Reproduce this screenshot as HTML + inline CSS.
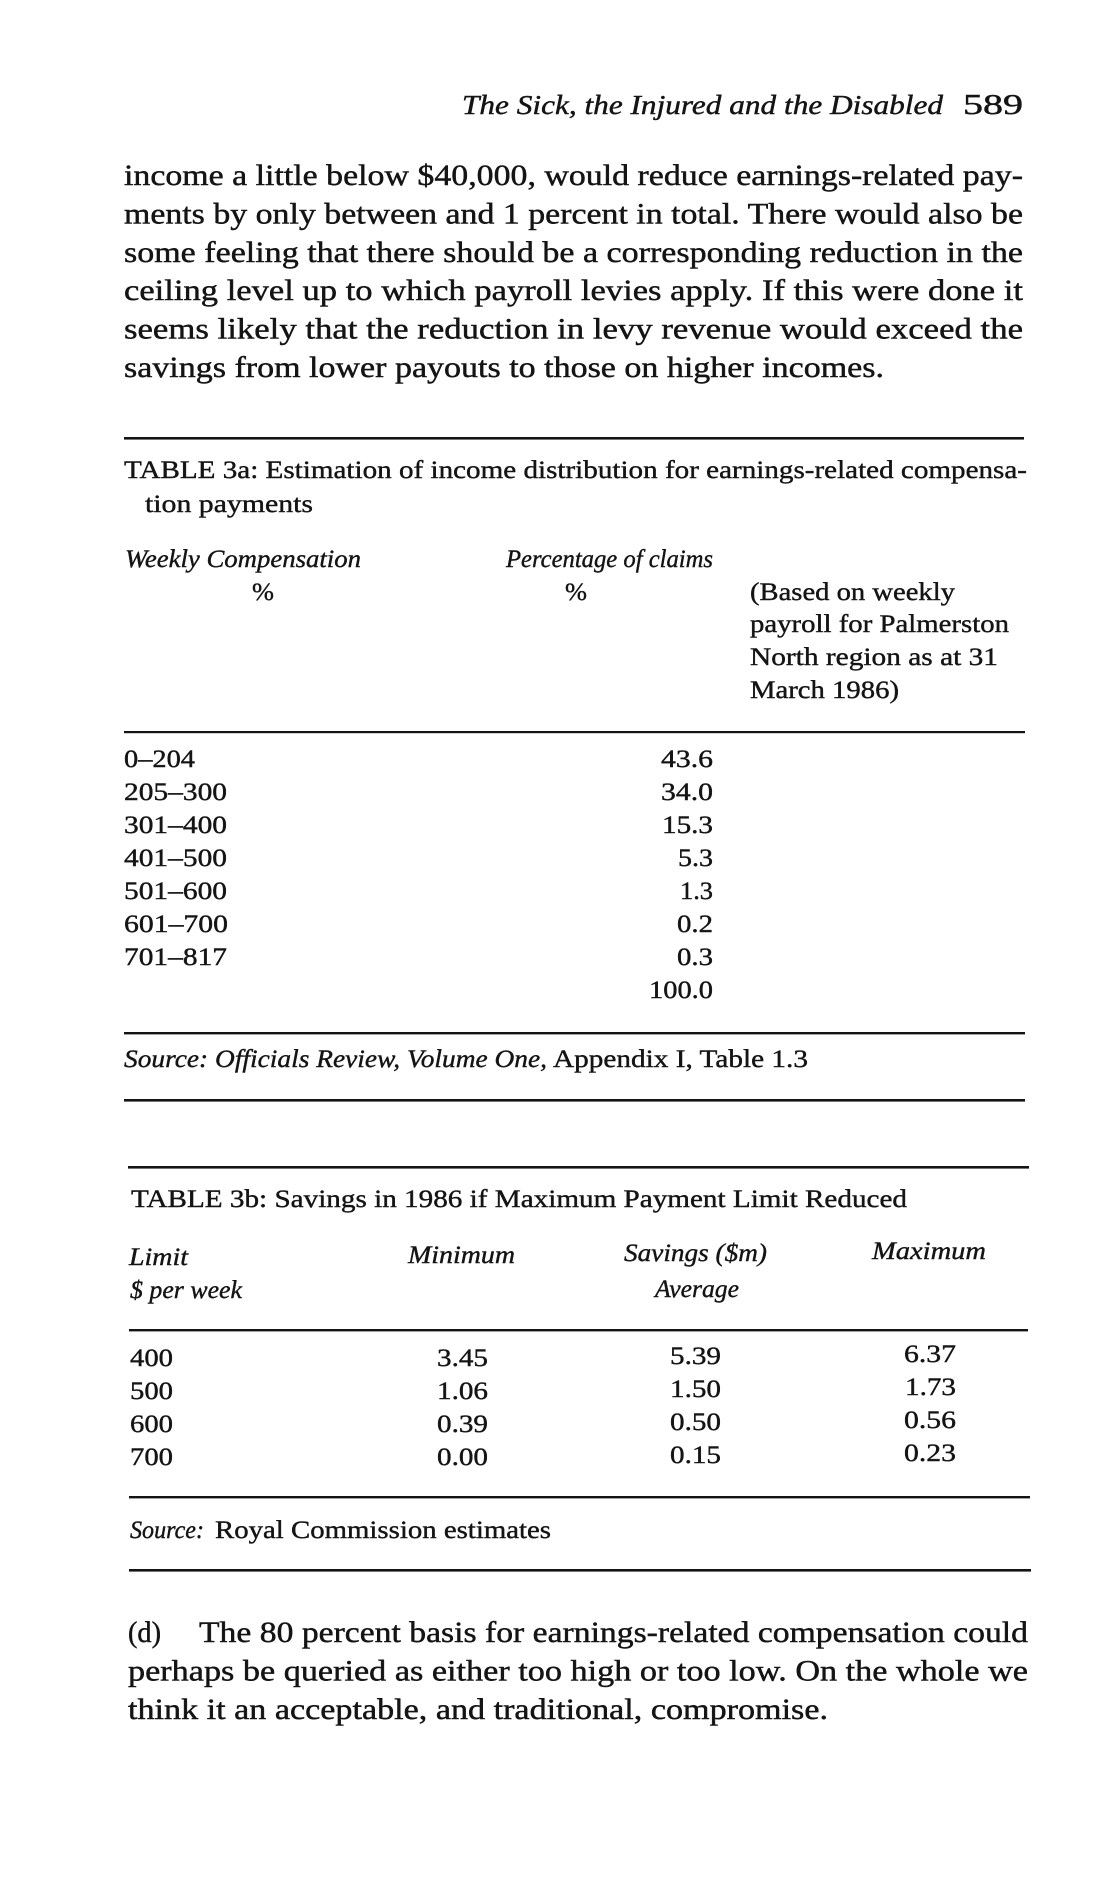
<!DOCTYPE html>
<html>
<head>
<meta charset="utf-8">
<style>
  html, body { margin: 0; padding: 0; background: #ffffff; }
  body { width: 1114px; height: 1882px; overflow: hidden; }
  svg { display: block; }
  text { font-family: "Liberation Serif", serif; fill: #141414; stroke: #141414; stroke-width: 0.45px; }
  .it { font-style: italic; }
  .b { font-size: 30px; }
  .t { font-size: 25px; stroke-width: 0.4px; }
</style>
</head>
<body>
<svg width="1114" height="1882" viewBox="0 0 1114 1882" xmlns="http://www.w3.org/2000/svg">
  <rect x="0" y="0" width="1114" height="1882" fill="#ffffff"/>

  <!-- Running head -->
  <text class="it" x="462" y="114" font-size="27" textLength="481" lengthAdjust="spacingAndGlyphs">The Sick, the Injured and the Disabled</text>
  <text x="963" y="114" font-size="28" textLength="60" lengthAdjust="spacingAndGlyphs">589</text>

  <!-- Body paragraph -->
  <text class="b" x="124" y="185" textLength="899" lengthAdjust="spacingAndGlyphs">income a little below $40,000, would reduce earnings-related pay-</text>
  <text class="b" x="124" y="223.4" textLength="899" lengthAdjust="spacingAndGlyphs">ments by only between and 1 percent in total. There would also be</text>
  <text class="b" x="124" y="261.8" textLength="899" lengthAdjust="spacingAndGlyphs">some feeling that there should be a corresponding reduction in the</text>
  <text class="b" x="124" y="300.2" textLength="899" lengthAdjust="spacingAndGlyphs">ceiling level up to which payroll levies apply. If this were done it</text>
  <text class="b" x="124" y="338.6" textLength="899" lengthAdjust="spacingAndGlyphs">seems likely that the reduction in levy revenue would exceed the</text>
  <text class="b" x="124" y="377" textLength="760" lengthAdjust="spacingAndGlyphs">savings from lower payouts to those on higher incomes.</text>

  <!-- TABLE 3a -->
  <rect x="124" y="437" width="900" height="2.6" fill="#141414"/>
  <text class="t" x="124" y="478" textLength="903" lengthAdjust="spacingAndGlyphs">TABLE 3a: Estimation of income distribution for earnings-related compensa-</text>
  <text class="t" x="145" y="512" textLength="168" lengthAdjust="spacingAndGlyphs">tion payments</text>

  <text class="t it" x="125" y="567" textLength="236" lengthAdjust="spacingAndGlyphs">Weekly Compensation</text>
  <text class="t" x="252" y="600" textLength="22" lengthAdjust="spacingAndGlyphs">%</text>
  <text class="t it" x="506" y="567" textLength="207" lengthAdjust="spacingAndGlyphs">Percentage of claims</text>
  <text class="t" x="565" y="600" textLength="22" lengthAdjust="spacingAndGlyphs">%</text>

  <text class="t" x="750" y="600" textLength="205" lengthAdjust="spacingAndGlyphs">(Based on weekly</text>
  <text class="t" x="750" y="632" textLength="259" lengthAdjust="spacingAndGlyphs">payroll for Palmerston</text>
  <text class="t" x="750" y="665" textLength="248" lengthAdjust="spacingAndGlyphs">North region as at 31</text>
  <text class="t" x="750" y="698" textLength="149" lengthAdjust="spacingAndGlyphs">March 1986)</text>

  <rect x="124" y="731" width="901" height="2.2" fill="#141414"/>

  <text class="t" x="124" y="767" textLength="71" lengthAdjust="spacingAndGlyphs">0–204</text>
  <text class="t" x="124" y="800" textLength="103" lengthAdjust="spacingAndGlyphs">205–300</text>
  <text class="t" x="124" y="833" textLength="103" lengthAdjust="spacingAndGlyphs">301–400</text>
  <text class="t" x="124" y="866" textLength="103" lengthAdjust="spacingAndGlyphs">401–500</text>
  <text class="t" x="124" y="899" textLength="103" lengthAdjust="spacingAndGlyphs">501–600</text>
  <text class="t" x="124" y="932" textLength="104" lengthAdjust="spacingAndGlyphs">601–700</text>
  <text class="t" x="124" y="965" textLength="103" lengthAdjust="spacingAndGlyphs">701–817</text>

  <text class="t" x="661" y="767" textLength="52" lengthAdjust="spacingAndGlyphs">43.6</text>
  <text class="t" x="661" y="800" textLength="52" lengthAdjust="spacingAndGlyphs">34.0</text>
  <text class="t" x="662" y="833" textLength="51" lengthAdjust="spacingAndGlyphs">15.3</text>
  <text class="t" x="678" y="866" textLength="35" lengthAdjust="spacingAndGlyphs">5.3</text>
  <text class="t" x="680" y="899" textLength="33" lengthAdjust="spacingAndGlyphs">1.3</text>
  <text class="t" x="677" y="932" textLength="36" lengthAdjust="spacingAndGlyphs">0.2</text>
  <text class="t" x="677" y="965" textLength="36" lengthAdjust="spacingAndGlyphs">0.3</text>
  <text class="t" x="649" y="998" textLength="64" lengthAdjust="spacingAndGlyphs">100.0</text>

  <rect x="124" y="1032" width="901" height="2.4" fill="#141414"/>
  <text class="t it" x="124" y="1067" textLength="423" lengthAdjust="spacingAndGlyphs">Source: Officials Review, Volume One,</text>
  <text class="t" x="553" y="1067" textLength="255" lengthAdjust="spacingAndGlyphs">Appendix I, Table 1.3</text>
  <rect x="124" y="1099" width="901" height="2.6" fill="#141414"/>

  <!-- TABLE 3b -->
  <rect x="128" y="1166" width="901" height="2.6" fill="#141414"/>
  <text class="t" x="131" y="1207" textLength="776" lengthAdjust="spacingAndGlyphs">TABLE 3b: Savings in 1986 if Maximum Payment Limit Reduced</text>

  <text class="t it" x="129" y="1265" textLength="59" lengthAdjust="spacingAndGlyphs">Limit</text>
  <text class="t it" x="408" y="1263" textLength="107" lengthAdjust="spacingAndGlyphs">Minimum</text>
  <text class="t it" x="624" y="1261" textLength="143" lengthAdjust="spacingAndGlyphs">Savings ($m)</text>
  <text class="t it" x="872" y="1259" textLength="114" lengthAdjust="spacingAndGlyphs">Maximum</text>
  <text class="t it" x="130" y="1298" textLength="112" lengthAdjust="spacingAndGlyphs">$ per week</text>
  <text class="t it" x="655" y="1297" textLength="84" lengthAdjust="spacingAndGlyphs">Average</text>

  <rect x="129" y="1329" width="899" height="2.4" fill="#141414"/>

  <text class="t" x="130" y="1366" textLength="43" lengthAdjust="spacingAndGlyphs">400</text>
  <text class="t" x="130" y="1399" textLength="43" lengthAdjust="spacingAndGlyphs">500</text>
  <text class="t" x="130" y="1432" textLength="43" lengthAdjust="spacingAndGlyphs">600</text>
  <text class="t" x="130" y="1465" textLength="43" lengthAdjust="spacingAndGlyphs">700</text>

  <text class="t" x="437" y="1366" textLength="51" lengthAdjust="spacingAndGlyphs">3.45</text>
  <text class="t" x="437" y="1399" textLength="51" lengthAdjust="spacingAndGlyphs">1.06</text>
  <text class="t" x="437" y="1432" textLength="51" lengthAdjust="spacingAndGlyphs">0.39</text>
  <text class="t" x="437" y="1465" textLength="51" lengthAdjust="spacingAndGlyphs">0.00</text>

  <text class="t" x="670" y="1364" textLength="51" lengthAdjust="spacingAndGlyphs">5.39</text>
  <text class="t" x="670" y="1397" textLength="51" lengthAdjust="spacingAndGlyphs">1.50</text>
  <text class="t" x="670" y="1430" textLength="51" lengthAdjust="spacingAndGlyphs">0.50</text>
  <text class="t" x="670" y="1463" textLength="51" lengthAdjust="spacingAndGlyphs">0.15</text>

  <text class="t" x="904" y="1362" textLength="52" lengthAdjust="spacingAndGlyphs">6.37</text>
  <text class="t" x="905" y="1395" textLength="51" lengthAdjust="spacingAndGlyphs">1.73</text>
  <text class="t" x="904" y="1428" textLength="52" lengthAdjust="spacingAndGlyphs">0.56</text>
  <text class="t" x="904" y="1461" textLength="52" lengthAdjust="spacingAndGlyphs">0.23</text>

  <rect x="129" y="1496" width="901" height="2.4" fill="#141414"/>
  <text class="t it" x="130" y="1538" textLength="74" lengthAdjust="spacingAndGlyphs">Source:</text>
  <text class="t" x="215" y="1538" textLength="336" lengthAdjust="spacingAndGlyphs">Royal Commission estimates</text>
  <rect x="129" y="1569" width="902" height="2.6" fill="#141414"/>

  <!-- Paragraph (d) -->
  <text class="b" x="128" y="1642" textLength="33" lengthAdjust="spacingAndGlyphs">(d)</text>
  <text class="b" x="199" y="1642" textLength="829" lengthAdjust="spacingAndGlyphs">The 80 percent basis for earnings-related compensation could</text>
  <text class="b" x="128" y="1680.4" textLength="900" lengthAdjust="spacingAndGlyphs">perhaps be queried as either too high or too low. On the whole we</text>
  <text class="b" x="128" y="1718.8" textLength="700" lengthAdjust="spacingAndGlyphs">think it an acceptable, and traditional, compromise.</text>
</svg>
</body>
</html>
